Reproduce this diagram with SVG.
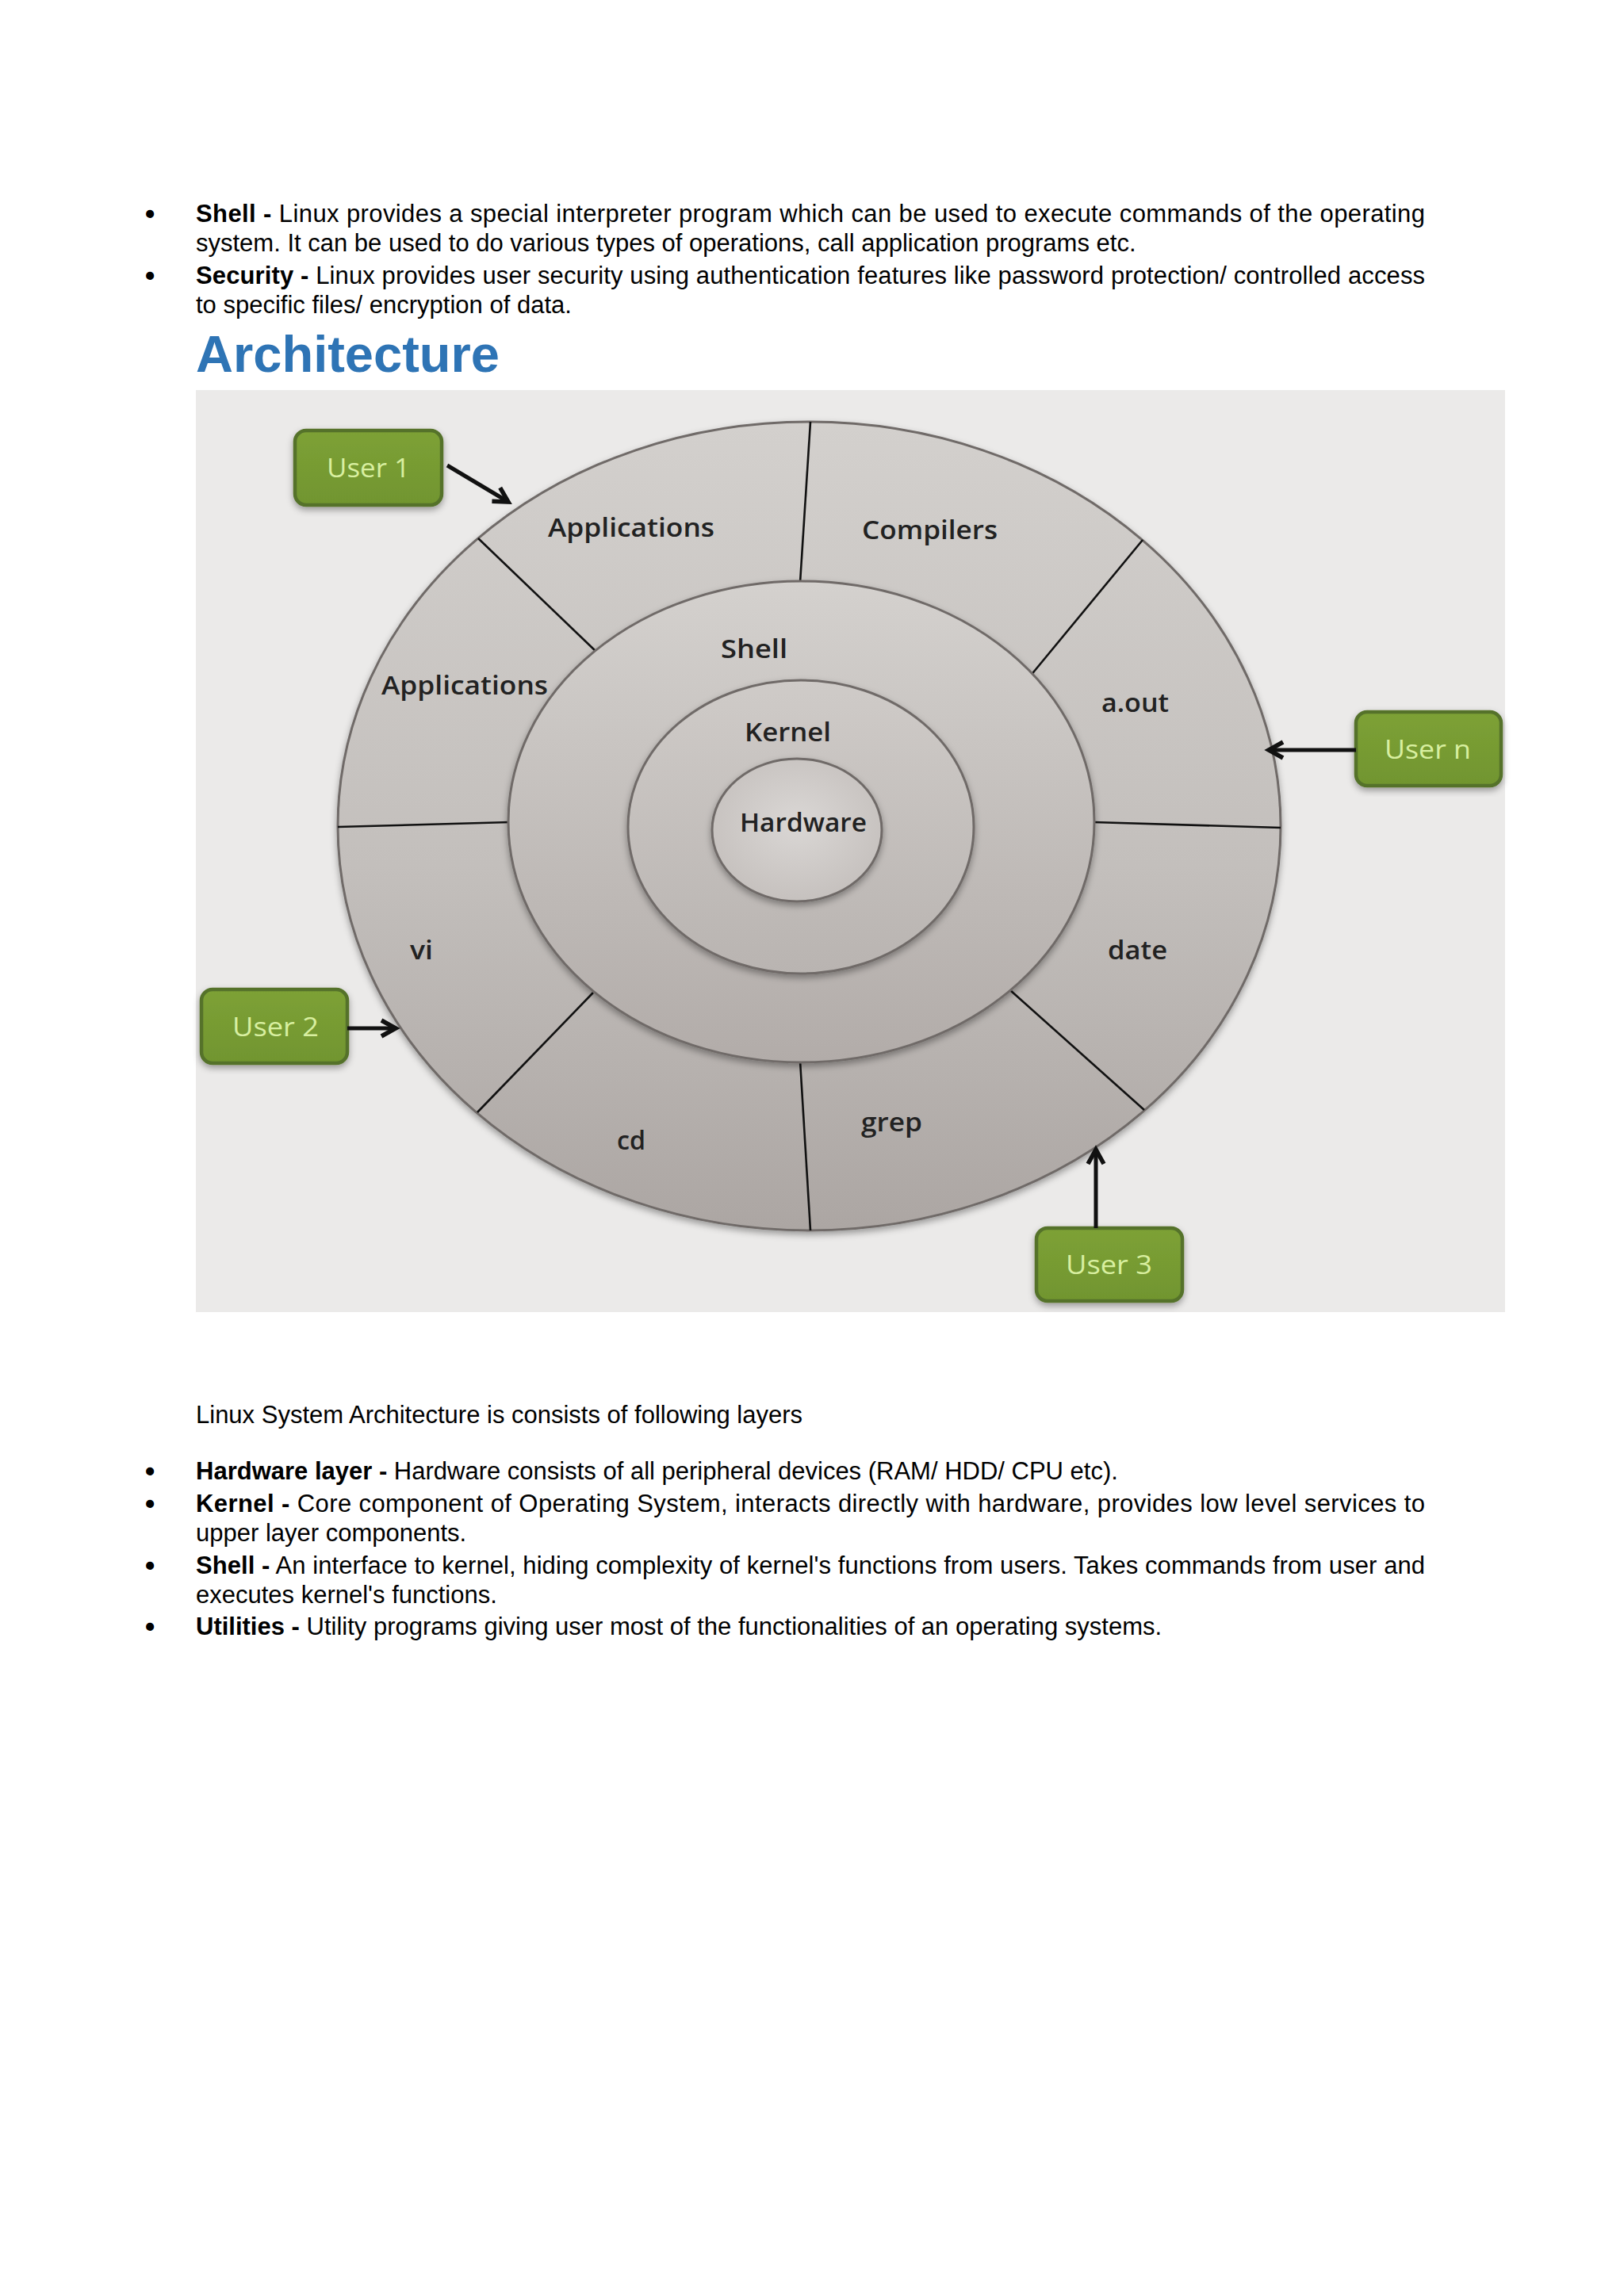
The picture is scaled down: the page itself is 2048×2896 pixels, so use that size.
<svg xmlns="http://www.w3.org/2000/svg" width="2048" height="2896" viewBox="0 0 2048 2896">
<defs>
<style>
.body{font-family:"Liberation Sans",Arial,sans-serif;font-size:31px;fill:#000}
.b{font-weight:bold}
.bul{font-family:"Liberation Sans",Arial,sans-serif;font-size:35px;font-weight:bold;fill:#000}
.lbl{font-family:"Open Sans","Noto Sans",sans-serif;font-weight:600;font-size:32px;fill:#222}
.usr{font-family:"Open Sans","Noto Sans",sans-serif;font-weight:400;font-size:33px;fill:#D8EFA0}
.ring{stroke:#6F6B68;stroke-width:3}
.div{stroke:#111;stroke-width:2.6;fill:none}
.box{fill:url(#gGreen);stroke:#54722A;stroke-width:4.5}
.arr{stroke:#111;stroke-width:5;fill:none;marker-end:url(#ah)}
</style>
<linearGradient id="gOuter" x1="0" y1="0" x2="0" y2="1">
<stop offset="0" stop-color="#D3D0CD"/><stop offset="0.55" stop-color="#C3BFBC"/><stop offset="1" stop-color="#ACA6A3"/>
</linearGradient>
<linearGradient id="gShell" x1="0" y1="0" x2="0" y2="1">
<stop offset="0" stop-color="#D4D1CE"/><stop offset="1" stop-color="#B2ACA9"/>
</linearGradient>
<linearGradient id="gKernel" x1="0" y1="0" x2="0" y2="1">
<stop offset="0" stop-color="#CFCBC8"/><stop offset="1" stop-color="#B9B4B1"/>
</linearGradient>
<radialGradient id="gHw" cx="0.5" cy="0.45" r="0.6">
<stop offset="0" stop-color="#DAD7D5"/><stop offset="1" stop-color="#C4BFBC"/>
</radialGradient>
<linearGradient id="gGreen" x1="0" y1="0" x2="0" y2="1">
<stop offset="0" stop-color="#7DA136"/><stop offset="1" stop-color="#71952F"/>
</linearGradient>
<filter id="sh" x="-10%" y="-10%" width="120%" height="125%">
<feDropShadow dx="0" dy="4" stdDeviation="4" flood-color="#000" flood-opacity="0.35"/>
</filter>
<marker id="ah" markerUnits="userSpaceOnUse" markerWidth="30" markerHeight="30" viewBox="0 0 30 30" refX="24" refY="15" orient="auto">
<path d="M6,5 L24,15 L6,25" fill="none" stroke="#111" stroke-width="5.5" stroke-linejoin="miter"/>
</marker>
</defs>

<rect x="0" y="0" width="2048" height="2896" fill="#FFFFFF"/>

<g id="text-top">
<text class="bul" x="183" y="282">•</text>
<text class="body" x="247" y="280" textLength="1550" lengthAdjust="spacing"><tspan class="b">Shell -</tspan> Linux provides a special interpreter program which can be used to execute commands of the operating</text>
<text class="body" x="247" y="317">system. It can be used to do various types of operations, call application programs etc.</text>
<text class="bul" x="183" y="360">•</text>
<text class="body" x="247" y="358" textLength="1550" lengthAdjust="spacing"><tspan class="b">Security -</tspan> Linux provides user security using authentication features like password protection/ controlled access</text>
<text class="body" x="247" y="395">to specific files/ encryption of data.</text>
<text x="247" y="469" font-family="Liberation Sans, Arial, sans-serif" font-weight="bold" font-size="64" fill="#2E74B5" textLength="383" lengthAdjust="spacingAndGlyphs">Architecture</text>
</g>

<g id="diagram">
<rect x="247" y="492" width="1651" height="1163" fill="#EBEAE9"/>

<g id="ring-utilities">
<ellipse class="ring" cx="1020.5" cy="1042" rx="594.5" ry="510" fill="url(#gOuter)" filter="url(#sh)"/>
<line class="div" x1="1022" y1="532" x2="1009" y2="735"/>
<line class="div" x1="603" y1="679" x2="752" y2="822"/>
<line class="div" x1="426" y1="1043" x2="643" y2="1037"/>
<line class="div" x1="748" y1="1252" x2="602" y2="1403"/>
<line class="div" x1="1009" y1="1338" x2="1022" y2="1552"/>
<line class="div" x1="1274" y1="1249" x2="1443" y2="1400"/>
<line class="div" x1="1379" y1="1037" x2="1615" y2="1044"/>
<line class="div" x1="1441" y1="681" x2="1299" y2="853"/>
</g>

<g id="ring-shell">
<ellipse class="ring" cx="1010.5" cy="1036.5" rx="369.5" ry="303.5" fill="url(#gShell)" filter="url(#sh)"/>
<text class="lbl" x="909" y="830" textLength="84" lengthAdjust="spacingAndGlyphs">Shell</text>
</g>

<g id="ring-kernel">
<ellipse class="ring" cx="1010" cy="1043" rx="218" ry="185" fill="url(#gKernel)" filter="url(#sh)"/>
<text class="lbl" x="939" y="935" textLength="109" lengthAdjust="spacingAndGlyphs">Kernel</text>
</g>

<g id="core-hardware">
<ellipse class="ring" cx="1005" cy="1047" rx="107" ry="90" fill="url(#gHw)" filter="url(#sh)"/>
<text class="lbl" x="933" y="1049" textLength="160" lengthAdjust="spacingAndGlyphs">Hardware</text>
</g>

<g id="seg-applications-1"><text class="lbl" x="691" y="677" textLength="210" lengthAdjust="spacingAndGlyphs">Applications</text></g>
<g id="seg-compilers"><text class="lbl" x="1087" y="680" textLength="171" lengthAdjust="spacingAndGlyphs">Compilers</text></g>
<g id="seg-applications-2"><text class="lbl" x="481" y="876" textLength="210" lengthAdjust="spacingAndGlyphs">Applications</text></g>
<g id="seg-aout"><text class="lbl" x="1389" y="898" textLength="85" lengthAdjust="spacingAndGlyphs">a.out</text></g>
<g id="seg-date"><text class="lbl" x="1397" y="1210" textLength="75" lengthAdjust="spacingAndGlyphs">date</text></g>
<g id="seg-vi"><text class="lbl" x="517" y="1210" textLength="29" lengthAdjust="spacingAndGlyphs">vi</text></g>
<g id="seg-cd"><text class="lbl" x="778" y="1450" textLength="36" lengthAdjust="spacingAndGlyphs">cd</text></g>
<g id="seg-grep"><text class="lbl" x="1086" y="1427" textLength="77" lengthAdjust="spacingAndGlyphs">grep</text></g>

<g id="user-1">
<rect class="box" x="372" y="543" width="185" height="94" rx="14" filter="url(#sh)"/>
<text class="usr" x="412" y="602" textLength="105" lengthAdjust="spacingAndGlyphs">User 1</text>
</g>
<g id="user-n">
<rect class="box" x="1710" y="898" width="183" height="93" rx="14" filter="url(#sh)"/>
<text class="usr" x="1746" y="957" textLength="109" lengthAdjust="spacingAndGlyphs">User n</text>
</g>
<g id="user-2">
<rect class="box" x="254" y="1248" width="184" height="93" rx="14" filter="url(#sh)"/>
<text class="usr" x="293" y="1307" textLength="109" lengthAdjust="spacingAndGlyphs">User 2</text>
</g>
<g id="user-3">
<rect class="box" x="1307" y="1549" width="184" height="92" rx="14" filter="url(#sh)"/>
<text class="usr" x="1344" y="1607" textLength="109" lengthAdjust="spacingAndGlyphs">User 3</text>
</g>

<g id="connectors">
<line class="arr" x1="564" y1="587" x2="641" y2="633"/>
<line class="arr" x1="1710" y1="946" x2="1600" y2="946"/>
<line class="arr" x1="438" y1="1297" x2="499" y2="1297"/>
<line class="arr" x1="1382" y1="1549" x2="1382" y2="1450"/>
</g>
</g>

<g id="text-bottom">
<text class="body" x="247" y="1795">Linux System Architecture is consists of following layers</text>
<text class="bul" x="183" y="1868">•</text>
<text class="body" x="247" y="1866"><tspan class="b">Hardware layer -</tspan> Hardware consists of all peripheral devices (RAM/ HDD/ CPU etc).</text>
<text class="bul" x="183" y="1909">•</text>
<text class="body" x="247" y="1907" textLength="1550" lengthAdjust="spacing"><tspan class="b">Kernel -</tspan> Core component of Operating System, interacts directly with hardware, provides low level services to</text>
<text class="body" x="247" y="1944">upper layer components.</text>
<text class="bul" x="183" y="1987">•</text>
<text class="body" x="247" y="1985" textLength="1550" lengthAdjust="spacing"><tspan class="b">Shell -</tspan> An interface to kernel, hiding complexity of kernel's functions from users. Takes commands from user and</text>
<text class="body" x="247" y="2022">executes kernel's functions.</text>
<text class="bul" x="183" y="2064">•</text>
<text class="body" x="247" y="2062"><tspan class="b">Utilities -</tspan> Utility programs giving user most of the functionalities of an operating systems.</text>
</g>
</svg>
